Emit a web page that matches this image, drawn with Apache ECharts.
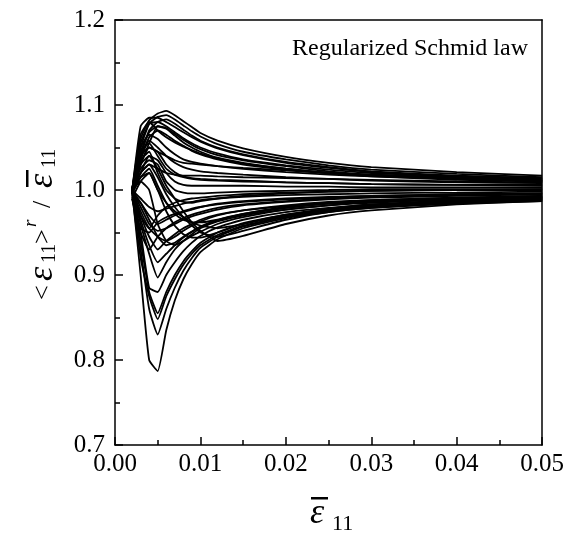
<!DOCTYPE html>
<html>
<head>
<meta charset="utf-8">
<script src="https://cdn.jsdelivr.net/npm/echarts@6/dist/echarts.min.js"></script>
<style>
  html, body { margin: 0; padding: 0; background: #fff; }
  #main { width: 567px; height: 537px; }
</style>
</head>
<body>
<div id="main"></div>
<script>
// applied strain, shared by every grain curve
var strain = [0.002, 0.003, 0.004, 0.005, 0.006, 0.007, 0.008, 0.009, 0.010, 0.012, 0.015, 0.020, 0.025, 0.030, 0.040, 0.050];

// grains that overshoot the mean strain
var up1 = [1.000, 1.060, 1.082, 1.090, 1.093, 1.088, 1.081, 1.074, 1.067, 1.058, 1.049, 1.039, 1.032, 1.027, 1.021, 1.017];
var up2 = [1.000, 1.050, 1.078, 1.086, 1.088, 1.083, 1.076, 1.069, 1.063, 1.054, 1.045, 1.036, 1.029, 1.024, 1.019, 1.015];
var up3 = [0.998, 1.075, 1.085, 1.085, 1.080, 1.074, 1.068, 1.062, 1.057, 1.049, 1.041, 1.032, 1.026, 1.021, 1.016, 1.012];
var up4 = [0.995, 1.040, 1.070, 1.080, 1.083, 1.078, 1.071, 1.064, 1.058, 1.050, 1.042, 1.033, 1.027, 1.022, 1.017, 1.014];
var up5 = [1.000, 1.045, 1.068, 1.075, 1.073, 1.066, 1.059, 1.053, 1.048, 1.041, 1.035, 1.028, 1.022, 1.018, 1.014, 1.011];
var up6 = [1.000, 1.030, 1.055, 1.075, 1.072, 1.064, 1.056, 1.050, 1.045, 1.038, 1.032, 1.025, 1.020, 1.017, 1.013, 1.010];
var up7 = [1.000, 1.065, 1.080, 1.070, 1.062, 1.056, 1.051, 1.047, 1.043, 1.037, 1.031, 1.025, 1.020, 1.017, 1.013, 1.011];
var up8 = [0.997, 1.035, 1.062, 1.070, 1.065, 1.058, 1.052, 1.046, 1.042, 1.036, 1.030, 1.024, 1.020, 1.016, 1.012, 1.010];
var up9 = [1.000, 1.055, 1.078, 1.080, 1.075, 1.068, 1.061, 1.055, 1.050, 1.043, 1.036, 1.029, 1.024, 1.020, 1.016, 1.013];

// grains that stay close to the mean
var mid1 = [1.000, 1.040, 1.058, 1.050, 1.040, 1.032, 1.027, 1.024, 1.022, 1.020, 1.018, 1.015, 1.013, 1.011, 1.009, 1.008];
var mid2 = [0.995, 1.030, 1.050, 1.045, 1.030, 1.021, 1.016, 1.014, 1.013, 1.012, 1.011, 1.009, 1.008, 1.007, 1.006, 1.005];
var mid3 = [1.000, 1.020, 1.040, 1.035, 1.020, 1.010, 1.006, 1.005, 1.005, 1.005, 1.005, 1.004, 1.004, 1.003, 1.003, 1.003];
var mid4 = [1.000, 1.035, 1.045, 1.020, 1.000, 0.990, 0.986, 0.985, 0.987, 0.990, 0.993, 0.996, 0.998, 0.999, 1.000, 1.000];
var mid5 = [1.000, 1.030, 1.040, 1.025, 1.005, 0.990, 0.975, 0.962, 0.952, 0.940, 0.946, 0.960, 0.970, 0.976, 0.983, 0.987];
var mid6 = [1.000, 1.020, 1.030, 1.015, 0.995, 0.980, 0.968, 0.958, 0.950, 0.945, 0.952, 0.965, 0.974, 0.979, 0.985, 0.988];
var mid7 = [0.990, 1.010, 1.020, 1.000, 0.985, 0.975, 0.968, 0.962, 0.958, 0.955, 0.960, 0.970, 0.977, 0.982, 0.987, 0.990];
var mid8 = [1.000, 1.040, 1.050, 1.045, 1.040, 1.035, 1.032, 1.031, 1.030, 1.028, 1.026, 1.023, 1.020, 1.018, 1.015, 1.013];
var mid9 = [1.000, 1.020, 1.030, 1.025, 1.020, 1.018, 1.017, 1.017, 1.017, 1.016, 1.015, 1.014, 1.013, 1.012, 1.010, 1.009];
var mid10 = [1.000, 1.050, 1.065, 1.060, 1.050, 1.042, 1.036, 1.033, 1.031, 1.028, 1.025, 1.021, 1.018, 1.016, 1.013, 1.011];
var mid11 = [1.000, 1.025, 1.035, 1.030, 1.010, 1.000, 0.997, 0.996, 0.996, 0.997, 0.998, 0.999, 1.000, 1.001, 1.001, 1.001];
var mid12 = [0.995, 1.015, 1.025, 1.005, 0.985, 0.972, 0.965, 0.962, 0.962, 0.965, 0.972, 0.980, 0.985, 0.988, 0.991, 0.993];
var mid13 = [1.000, 1.045, 1.055, 1.040, 1.025, 1.018, 1.015, 1.013, 1.012, 1.011, 1.010, 1.009, 1.008, 1.007, 1.006, 1.006];

// grains that lag behind the mean
var low1 = [1.000, 0.900, 0.800, 0.787, 0.835, 0.870, 0.895, 0.913, 0.927, 0.942, 0.955, 0.967, 0.974, 0.979, 0.984, 0.987];
var low2 = [1.000, 0.930, 0.860, 0.830, 0.860, 0.885, 0.905, 0.920, 0.932, 0.945, 0.957, 0.968, 0.975, 0.980, 0.985, 0.988];
var low3 = [0.995, 0.920, 0.875, 0.848, 0.875, 0.895, 0.912, 0.925, 0.935, 0.947, 0.958, 0.969, 0.976, 0.981, 0.986, 0.989];
var low4 = [1.000, 0.940, 0.880, 0.855, 0.880, 0.900, 0.916, 0.928, 0.938, 0.950, 0.961, 0.971, 0.977, 0.982, 0.987, 0.990];
var low5 = [1.000, 0.950, 0.885, 0.880, 0.900, 0.915, 0.928, 0.938, 0.946, 0.956, 0.965, 0.974, 0.979, 0.983, 0.988, 0.990];
var low6 = [1.000, 0.960, 0.925, 0.897, 0.915, 0.930, 0.940, 0.948, 0.955, 0.963, 0.970, 0.977, 0.982, 0.985, 0.989, 0.991];
var low7 = [1.000, 0.970, 0.945, 0.930, 0.940, 0.948, 0.955, 0.960, 0.965, 0.971, 0.976, 0.981, 0.985, 0.987, 0.990, 0.992];
var low8 = [1.000, 0.975, 0.955, 0.945, 0.940, 0.945, 0.952, 0.958, 0.963, 0.970, 0.976, 0.982, 0.986, 0.988, 0.991, 0.993];
var low9 = [1.000, 0.980, 0.960, 0.952, 0.955, 0.960, 0.965, 0.969, 0.972, 0.977, 0.982, 0.986, 0.989, 0.991, 0.993, 0.995];
var low10 = [0.995, 0.985, 0.970, 0.960, 0.965, 0.970, 0.974, 0.977, 0.980, 0.984, 0.987, 0.990, 0.992, 0.993, 0.995, 0.996];
var low11 = [1.000, 0.990, 0.980, 0.975, 0.978, 0.981, 0.984, 0.986, 0.988, 0.990, 0.992, 0.994, 0.995, 0.996, 0.997, 0.998];
var low12 = [1.000, 0.970, 0.955, 0.970, 0.980, 0.985, 0.988, 0.990, 0.991, 0.993, 0.995, 0.997, 0.998, 0.999, 1.000, 1.001];
var low13 = [1.000, 1.010, 1.000, 0.960, 0.940, 0.935, 0.940, 0.946, 0.951, 0.960, 0.968, 0.977, 0.982, 0.986, 0.989, 0.991];
var low14 = [0.990, 0.950, 0.930, 0.945, 0.955, 0.962, 0.967, 0.971, 0.974, 0.979, 0.983, 0.987, 0.990, 0.992, 0.994, 0.995];
var low15 = [1.000, 0.985, 0.965, 0.945, 0.935, 0.938, 0.945, 0.951, 0.956, 0.964, 0.971, 0.979, 0.984, 0.987, 0.990, 0.992];
var low16 = [1.000, 1.015, 1.020, 1.000, 0.975, 0.958, 0.948, 0.944, 0.944, 0.950, 0.960, 0.971, 0.978, 0.983, 0.987, 0.989];
var low17 = [0.990, 0.955, 0.950, 0.962, 0.968, 0.972, 0.975, 0.978, 0.980, 0.983, 0.986, 0.989, 0.991, 0.993, 0.995, 0.996];
var low18 = [1.000, 0.965, 0.935, 0.915, 0.925, 0.935, 0.944, 0.951, 0.957, 0.965, 0.972, 0.979, 0.984, 0.987, 0.990, 0.992];

var xTicks = [0, 0.01, 0.02, 0.03, 0.04, 0.05];
var yTicks = [0.7, 0.8, 0.9, 1.0, 1.1, 1.2];

var grains = [up1, up2, up3, up4, up5, up6, up7, up8, up9,
  mid1, mid2, mid3, mid4, mid5, mid6, mid7, mid8, mid9, mid10, mid11, mid12, mid13,
  low1, low2, low3, low4, low5, low6, low7, low8, low9, low10, low11, low12, low13, low14,
  low15, low16, low17, low18];

var serif = '"Liberation Serif", "Times New Roman", serif';

var series = grains.map(function (ys, k) {
  return {
    name: 'g' + k,
    type: 'line',
    showSymbol: false,
    smooth: 0.15,
    lineStyle: { color: '#000', width: 1.8 },
    data: strain.map(function (x, i) { return [x, ys[i]]; }),
    animation: false,
    silent: true
  };
});

var myChart = echarts.init(document.getElementById('main'));
var option = {
  backgroundColor: '#fff',
  animation: false,
  grid: { left: 115, right: 24, top: 20, bottom: 92 },
  xAxis: [{
    type: 'value',
    min: xTicks[0],
    max: xTicks[xTicks.length - 1],
    interval: 0.01,
    axisLine: { lineStyle: { color: '#000', width: 1.5 } },
    axisTick: { inside: true, length: 8, lineStyle: { color: '#000', width: 1.5 } },
    minorTick: { show: true, splitNumber: 2, length: 5, lineStyle: { color: '#000', width: 1.5 } },
    splitLine: { show: false },
    axisLabel: {
      color: '#000', fontFamily: serif, fontSize: 25, margin: 7,
      formatter: function (v) { return v.toFixed(2); }
    }
  }, {
    type: 'value', position: 'top', min: 0, max: 0.05,
    axisLine: { show: true, onZero: false, lineStyle: { color: '#000', width: 1.5 } },
    axisTick: { show: false }, axisLabel: { show: false }, splitLine: { show: false }
  }],
  yAxis: [{
    type: 'value',
    min: yTicks[0],
    max: yTicks[yTicks.length - 1],
    interval: 0.1,
    axisLine: { show: true, lineStyle: { color: '#000', width: 1.5 } },
    axisTick: { show: true, inside: true, length: 8, lineStyle: { color: '#000', width: 1.5 } },
    minorTick: { show: true, splitNumber: 2, length: 5, lineStyle: { color: '#000', width: 1.5 } },
    splitLine: { show: false },
    axisLabel: {
      color: '#000', fontFamily: serif, fontSize: 25, margin: 10,
      formatter: function (v) { return v.toFixed(1); }
    }
  }, {
    type: 'value', position: 'right', min: 0.7, max: 1.2,
    axisLine: { show: true, onZero: false, lineStyle: { color: '#000', width: 1.5 } },
    axisTick: { show: false }, axisLabel: { show: false }, splitLine: { show: false }
  }],
  graphic: [
    {
      type: 'text', x: 528, y: 49,
      style: { text: 'Regularized Schmid law', font: '24px ' + serif, fill: '#000', align: 'right', verticalAlign: 'middle' }
    },
    // x axis title: overlined epsilon 11
    {
      type: 'group', x: 310, y: 514,
      children: [
        { type: 'text', x: 0, y: 0, style: { text: 'ε', font: 'italic 36px ' + serif, fill: '#000', align: 'left', verticalAlign: 'middle' } },
        { type: 'rect', shape: { x: 1, y: -17, width: 17, height: 2.5 }, style: { fill: '#000' } },
        { type: 'text', x: 22, y: 10, style: { text: '11', font: '22px ' + serif, fill: '#000', align: 'left', verticalAlign: 'middle' } }
      ]
    },
    // y axis title, rotated
    {
      type: 'group', x: 43, y: 300, rotation: Math.PI / 2,
      children: [
        { type: 'text', x: 0, y: 0, style: { text: '<', font: '26px ' + serif, fill: '#000', align: 'left', verticalAlign: 'middle' } },
        { type: 'text', x: 19, y: 0, style: { text: 'ε', font: 'italic 36px ' + serif, fill: '#000', align: 'left', verticalAlign: 'middle' } },
        { type: 'text', x: 37, y: 7, style: { text: '11', font: '20px ' + serif, fill: '#000', align: 'left', verticalAlign: 'middle' } },
        { type: 'text', x: 56, y: 0, style: { text: '>', font: '26px ' + serif, fill: '#000', align: 'left', verticalAlign: 'middle' } },
        { type: 'text', x: 73, y: -12, style: { text: 'r', font: 'italic 19px ' + serif, fill: '#000', align: 'left', verticalAlign: 'middle' } },
        { type: 'text', x: 92, y: 0, style: { text: '/', font: '26px ' + serif, fill: '#000', align: 'left', verticalAlign: 'middle' } },
        { type: 'text', x: 112, y: 0, style: { text: 'ε', font: 'italic 36px ' + serif, fill: '#000', align: 'left', verticalAlign: 'middle' } },
        { type: 'rect', shape: { x: 113, y: -17, width: 17, height: 2.5 }, style: { fill: '#000' } },
        { type: 'text', x: 132, y: 7, style: { text: '11', font: '20px ' + serif, fill: '#000', align: 'left', verticalAlign: 'middle' } }
      ]
    }
  ],
  series: series
};
myChart.setOption(option);
</script>
</body>
</html>
